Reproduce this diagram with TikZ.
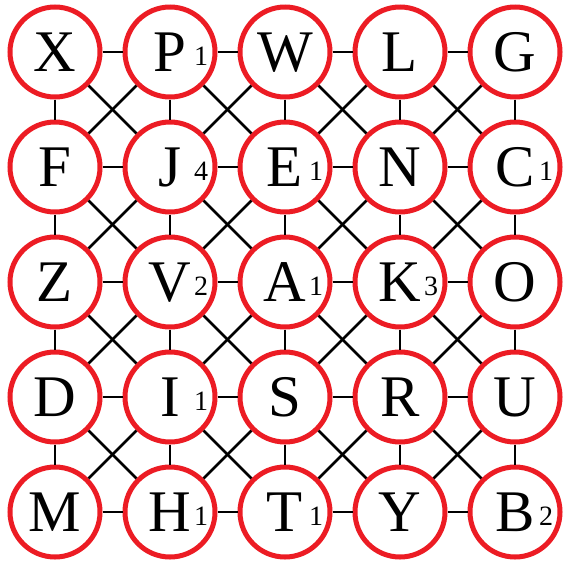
\documentclass[tikz,border=0pt]{standalone}
\usepackage{fontspec}
\setmainfont{Liberation Serif}
\definecolor{ringred}{RGB}{236,28,36}
\begin{document}
\begin{tikzpicture}[x=1pt,y=-1pt,
  ring/.style={circle,draw=ringred,line width=5pt,minimum size=90pt,inner sep=0pt,
    text height=39pt,text depth=0pt,font=\fontsize{59}{62}\selectfont},
  edge/.style={line width=2.6pt,black},
  num/.style={anchor=base,inner sep=0pt,font=\fontsize{28}{30}\selectfont}]
\useasboundingbox (0,0) rectangle (564,563);
\foreach \l [count=\k from 0] in {X,P,W,L,G,F,J,E,N,C,Z,V,A,K,O,D,I,S,R,U,M,H,T,Y,B}{
  \pgfmathtruncatemacro\i{mod(\k,5)}
  \pgfmathtruncatemacro\j{div(\k,5)}
  \node[ring] (c-\i-\j) at (55+115*\i,52+115*\j) {\l};
}
\foreach \i/\j/\d [count=\k] in {1/0/1,1/1/4,2/1/1,4/1/1,1/2/2,2/2/1,3/2/3,1/3/1,1/4/1,2/4/1,4/4/2}{
  \node[num] (d-\k) at (86+115*\i,65+115*\j) {\d};
}
\foreach \i in {0,...,4}{
  \foreach \j in {0,...,4}{
    \pgfmathtruncatemacro\ii{\i+1}
    \pgfmathtruncatemacro\jj{\j+1}
    \ifnum\i<4 \draw[edge] (c-\i-\j) -- (c-\ii-\j); \fi
    \ifnum\j<4 \draw[edge] (c-\i-\j) -- (c-\i-\jj); \fi
    \ifnum\i<4 \ifnum\j<4
      \draw[edge] (c-\i-\j) -- (c-\ii-\jj);
      \draw[edge] (c-\ii-\j) -- (c-\i-\jj);
    \fi\fi
  }
}
\end{tikzpicture}
\end{document}
